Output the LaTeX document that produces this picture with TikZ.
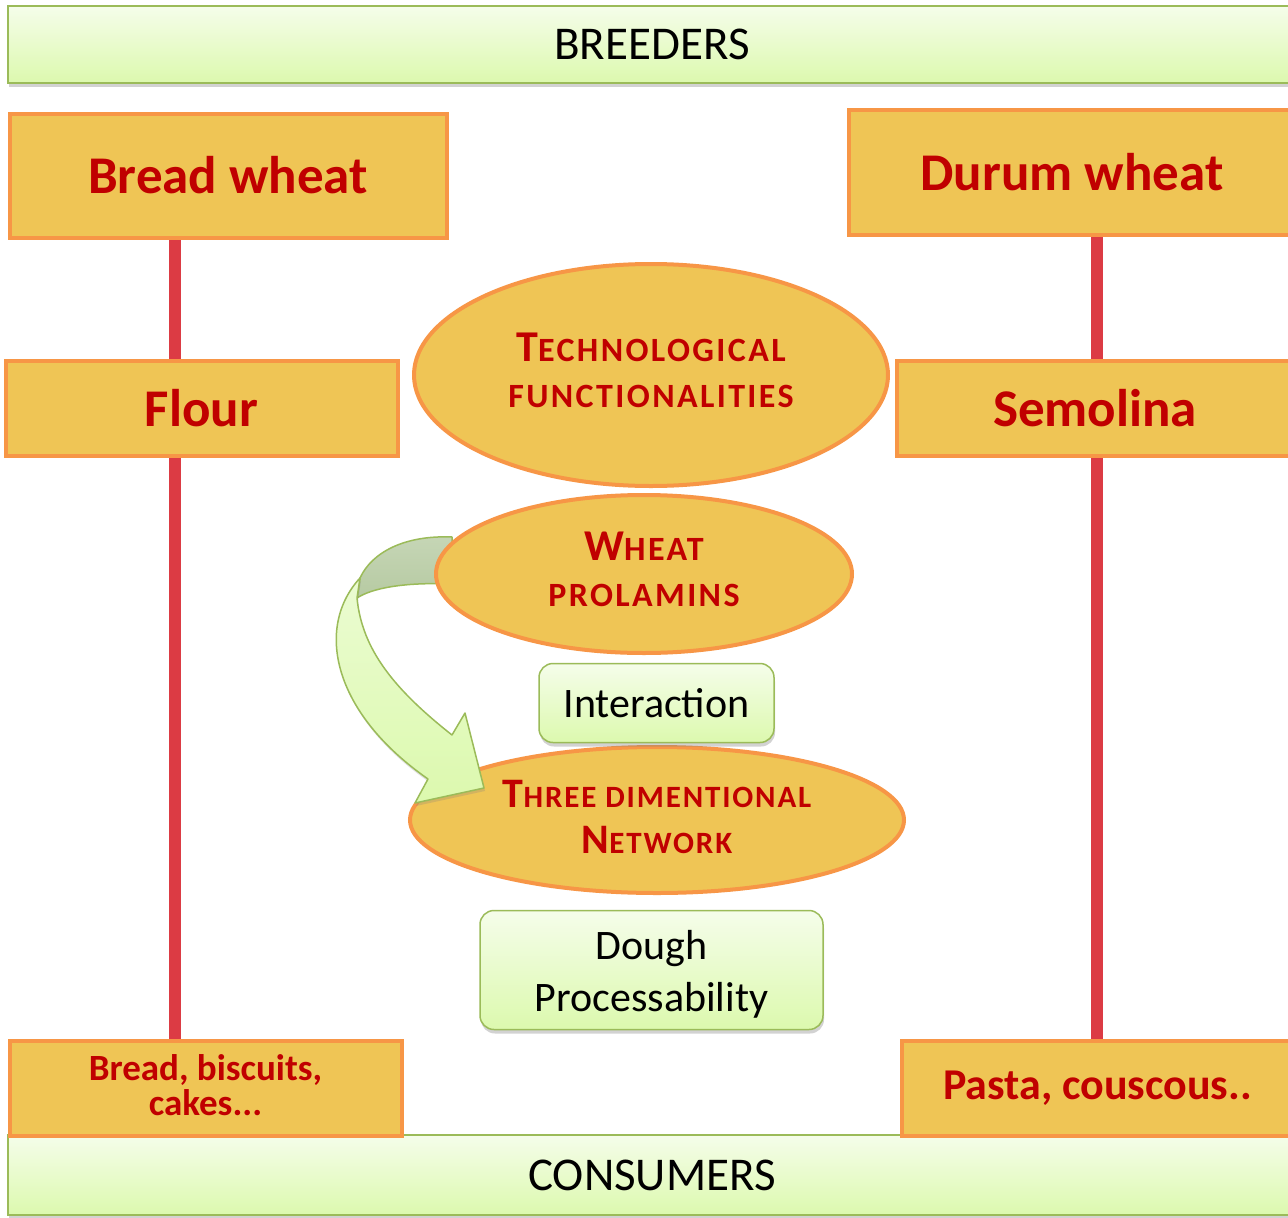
\documentclass[tikz,border=0pt]{standalone}
\usepackage{fontspec}
\setmainfont{Carlito}
\usetikzlibrary{shapes.geometric,shadows,calc}
\pgfdeclarelayer{bg}
\pgfsetlayers{bg,main}
\definecolor{gold}{HTML}{EFC555}
\definecolor{orB}{HTML}{F79646}
\definecolor{redT}{HTML}{C00000}
\definecolor{redL}{HTML}{DC3B44}
\definecolor{grB}{HTML}{9BBB59}
\definecolor{grT}{HTML}{F5FDEA}
\definecolor{grBot}{HTML}{DCF9AE}
\definecolor{dkT}{HTML}{C6D6B6}
\definecolor{dkB}{HTML}{B6CAA2}
\newcommand\capBig[1]{{\fontsize{44}{46}\selectfont #1}}
\newcommand\capBigN[1]{{\fontsize{42}{46}\selectfont #1}}
\newcommand\lowfix{\rule[-10pt]{0pt}{0pt}}
\begin{document}
\begin{tikzpicture}[x=1pt,y=-1pt,
  orbox/.style={draw=orB, line width=4pt, fill=gold, text=redT, inner sep=0pt,
    font=\fontsize{53}{60}\selectfont\bfseries},
  ell/.style={ellipse, draw=orB, line width=4pt, fill=gold, text=redT, inner sep=0pt,
    align=center, font=\fontsize{34}{46}\selectfont\bfseries\addfontfeatures{LetterSpace=7}},
  grbar/.style={draw=grB, line width=1.5pt, top color=grT, bottom color=grBot, inner sep=0pt,
    drop shadow={opacity=0.35, shadow xshift=1pt, shadow yshift=-4pt},
    font=\fontsize{47}{50}\selectfont},
  grbox/.style={grbar, rounded corners=14pt, align=center, font=\fontsize{42}{52}\selectfont},
  redline/.style={draw=redL, line width=12pt},
  arrowedge/.style={draw=grB, line width=1.5pt, line join=round}
]
\begin{pgfonlayer}{bg}
\fill[white] (0,0) rectangle (1288,1218);
\end{pgfonlayer}
\useasboundingbox (0,0) rectangle (1288,1218);

% top bar
\node[grbar, minimum width=1288pt, minimum height=77pt] (breed) at (652,44.5) {BREEDERS};

% orange boxes top
\node[orbox, minimum width=437pt, minimum height=124pt] (bw) at (228,175.5) {Bread wheat};
\node[orbox, minimum width=446pt, minimum height=125pt] (dw) at (1072,172) {Durum wheat};
\node[orbox, minimum width=392pt, minimum height=95pt] (flour) at (201.5,408) {Flour};
\node[orbox, minimum width=397pt, minimum height=95pt] (sem) at (1095,408) {Semolina};

% bottom bar and boxes
\node[grbar, minimum width=1288pt, minimum height=80pt] (cons) at (652,1175) {CONSUMERS};
\node[orbox, minimum width=392pt, minimum height=95pt, align=center,
  font=\fontsize{37}{35}\selectfont\bfseries] (bbc) at (205.5,1088) {Bread, biscuits,\\cakes...\rule[-6pt]{0pt}{0pt}};
\node[orbox, minimum width=392pt, minimum height=95pt,
  font=\fontsize{44}{50}\selectfont\bfseries] (pasta) at (1097.5,1088) {Pasta, couscous..};

% red connectors
\coordinate (lx) at (175,0);
\coordinate (rx) at (1097,0);
\begin{pgfonlayer}{bg}
\draw[redline] (bw.south -| lx) -- (flour.north -| lx);
\draw[redline] (flour.south -| lx) -- (bbc.north -| lx);
\draw[redline] (dw.south -| rx) -- (sem.north -| rx);
\draw[redline] (sem.south -| rx) -- (pasta.north -| rx);
\end{pgfonlayer}

% central ellipses and boxes
\node[ell, minimum width=474pt, minimum height=222pt] (tech) at (651,375)
  {\capBig{T}ECHNOLOGICAL\\FUNCTIONALITIES\lowfix};
\node[ell, minimum width=494pt, minimum height=146pt,
  font=\fontsize{31}{46}\selectfont\bfseries\addfontfeatures{LetterSpace=6}] (net) at (657,820)
  {\capBigN{T}HREE DIMENTIONAL\\\capBigN{N}ETWORK\rule[-6pt]{0pt}{0pt}};
\node[grbox, minimum width=235pt, minimum height=79pt] (inter) at (656.5,703) {Interaction};
\node[grbox, minimum width=343pt, minimum height=119pt] (dough) at (651.5,970) {\rule{0pt}{38pt}Dough\\Processability};

% curved block arrow from prolamins to network
\path[arrowedge, top color=dkT, bottom color=dkB]
  (452,537) .. controls (405,535) and (372,552) .. (360,578)
  -- (357,598) .. controls (372,588) and (405,582) .. (452,584) -- cycle;
\path[arrowedge, top color=grT!60!grBot, bottom color=grBot,
  drop shadow={opacity=0.25, shadow xshift=1pt, shadow yshift=-3pt}]
  (360,578) .. controls (315,627) and (332,712) .. (428,779)
  -- (415,803) -- (484,788) -- (465,713) -- (452,735)
  .. controls (395,690) and (362,650) .. (357,598) -- cycle;

\node[ell, minimum width=416pt, minimum height=158pt] (prol) at (644,574)
  {\capBig{W}HEAT\\PROLAMINS\lowfix};
\end{tikzpicture}
\end{document}
